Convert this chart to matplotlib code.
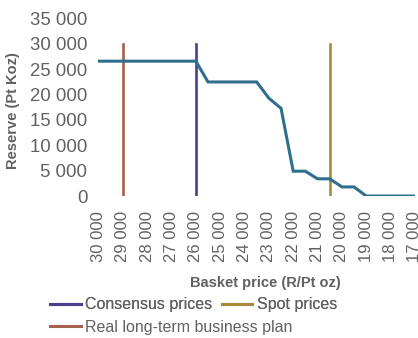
import matplotlib
matplotlib.use("Agg")
import matplotlib.pyplot as plt
from matplotlib.lines import Line2D

# reserve curve: basket price (R/Pt oz) vs reserve (Pt Koz)
price = [30000, 26000, 25500, 23500, 23000, 22500, 22000, 21500,
         21000, 20500, 20000, 19500, 19000, 17000]
reserve = [26600, 26600, 22500, 22500, 19300, 17300, 4900, 4900,
           3400, 3400, 1800, 1800, 0, 0]

# price scenarios drawn as vertical markers
scenario_names = ["Consensus prices", "Spot prices", "Real long-term business plan"]
scenario_prices = [26000, 20500, 29000]
scenario_colors = ["#4a3f8c", "#a68a3c", "#a6624c"]
marker_top = 30000

xticks = list(range(30000, 16000, -1000))
yticks = list(range(0, 35001, 5000))

def spaced(v):
    return "{:,}".format(int(v)).replace(",", " ")

TEXT = "#616161"
plt.rcParams["font.family"] = ["Liberation Sans", "DejaVu Sans"]

fig = plt.figure(figsize=(4.18, 3.38), dpi=100)
ax = fig.add_axes([0.2356, 0.420, 0.757, 0.525])

ax.plot(price, reserve, color="#2f6f8e", lw=2.2, solid_joinstyle="miter", zorder=3)
for p, c in zip(scenario_prices, scenario_colors):
    ax.plot([p, p], [0, marker_top], color=c, lw=1.9, zorder=2)

ax.set_xlim(30000, 17000)
ax.set_ylim(0, 35000)
ax.set_xticks(xticks)
ax.set_xticklabels([spaced(v) for v in xticks], rotation=90, fontsize=12, color=TEXT)
ax.set_yticks(yticks)
ax.set_yticklabels([spaced(v) for v in yticks], fontsize=13.4, color=TEXT)
ax.tick_params(axis="x", length=0, pad=11)
ax.tick_params(axis="y", length=0, pad=8)
for s in ax.spines.values():
    s.set_visible(False)

fig.text(0.030, 0.674, "Reserve (Pt Koz)", rotation=90, ha="center", va="center",
         fontsize=10.5, color=TEXT, fontweight="bold")
fig.text(0.634, 0.163, "Basket price (R/Pt oz)", ha="center", va="center",
         fontsize=10.5, color=TEXT, fontweight="bold")

handles = [Line2D([], [], color=c, lw=2.2) for c in scenario_colors]
leg1 = fig.legend(handles[:2], scenario_names[:2], ncol=2, loc="center left",
                  bbox_to_anchor=(0.12, 0.098), frameon=False, fontsize=11.5,
                  handlelength=1.9, handletextpad=0.3, columnspacing=0.6,
                  labelcolor=TEXT, borderpad=0, borderaxespad=0)
leg2 = fig.legend(handles[2:], scenario_names[2:], loc="center left",
                  bbox_to_anchor=(0.12, 0.032), frameon=False, fontsize=11.5,
                  handlelength=1.9, handletextpad=0.3, labelcolor=TEXT,
                  borderpad=0, borderaxespad=0)
fig.add_artist(leg1)

fig.savefig("out.png", dpi=100)
